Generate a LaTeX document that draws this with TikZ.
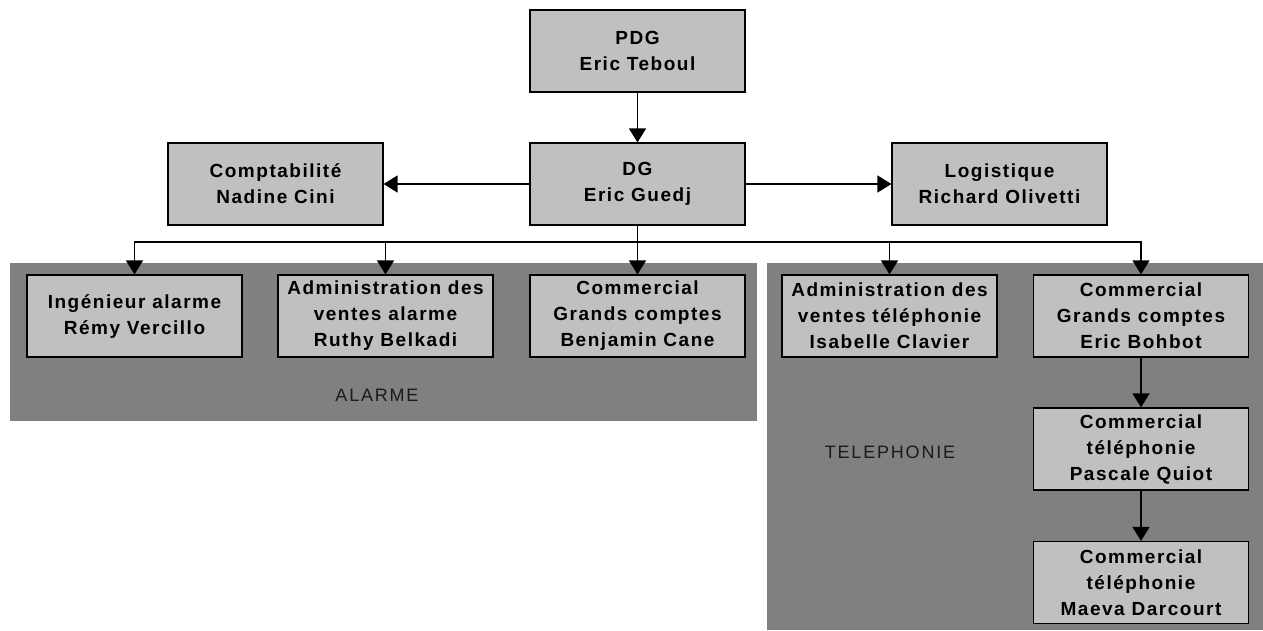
\documentclass[tikz,border=0pt]{standalone}
\usepackage{fontspec}
\newfontfamily\boxfont{Liberation Sans}[LetterSpace=8]
\newfontfamily\panelfont{Liberation Sans}[LetterSpace=10]
\usetikzlibrary{arrows.meta}
\definecolor{boxgray}{HTML}{C0C0C0}
\definecolor{panelgray}{HTML}{808080}
\definecolor{labeltext}{HTML}{1A1A1A}
\begin{document}
\begin{tikzpicture}[x=1pt,y=-1pt,
  orgbox/.style={draw=black, line width=1.2pt, fill=boxgray, minimum width=215pt, minimum height=82pt,
    inner sep=0pt, align=center, font=\boxfont\bfseries\fontsize{19}{26}\selectfont},
  panel/.style={fill=panelgray, draw=none},
  panellabel/.style={font=\panelfont\fontsize{18}{22}\selectfont, text=labeltext},
  arr/.style={line width=1.5pt, -{Triangle[length=14pt,width=17pt]}},
  ln/.style={line width=1.5pt}]
\useasboundingbox (0,0) rectangle (1263,630);
\fill[white] (0,0) rectangle (1263,630);
% panels
\fill[panel] (10,263) rectangle (757,421);
\fill[panel] (767,263) rectangle (1263,630);
\node[panellabel] (alarme) at (377,395) {ALARME};
\node[panellabel] (telephonie) at (890,452) {TELEPHONIE};
% boxes
\node[orgbox] (pdg) at (637.5,51) {PDG\\Eric Teboul};
\node[orgbox] (dg) at (637.5,184) {DG\\Eric Guedj};
\node[orgbox] (compta) at (275.5,184) {Comptabilité\\Nadine Cini};
\node[orgbox] (logi) at (999.5,184) {Logistique\\Richard Olivetti};
\node[orgbox] (ing) at (134.5,316) {Ingénieur alarme\\Rémy Vercillo};
\node[orgbox] (adal) at (385.5,316) {Administration des\\ventes alarme\\Ruthy Belkadi};
\node[orgbox] (comben) at (637.5,316) {Commercial\\Grands comptes\\Benjamin Cane};
\node[orgbox] (adtel) at (889.5,316) {Administration des\\ventes téléphonie\\Isabelle Clavier};
\node[orgbox] (comeric) at (1141,316) {Commercial\\Grands comptes\\Eric Bohbot};
\node[orgbox] (compas) at (1141,449) {Commercial\\téléphonie\\Pascale Quiot};
\node[orgbox] (commae) at (1141,582.5) {Commercial\\téléphonie\\Maeva Darcourt};
\coordinate (bus) at (0,242);
% connectors
\draw[arr] (pdg.south) -- (dg.north);
\draw[arr] (dg.west) -- (compta.east);
\draw[arr] (dg.east) -- (logi.west);
\draw[arr] (dg.south) -- (dg.south |- bus) -| (ing.north);
\draw[arr] (dg.south) -- (dg.south |- bus) -| (adal.north);
\draw[arr] (dg.south) -- (comben.north);
\draw[arr] (dg.south) -- (dg.south |- bus) -| (adtel.north);
\draw[arr] (dg.south) -- (dg.south |- bus) -| (comeric.north);
\draw[arr] (comeric.south) -- (compas.north);
\draw[arr] (compas.south) -- (commae.north);
\end{tikzpicture}
\end{document}
